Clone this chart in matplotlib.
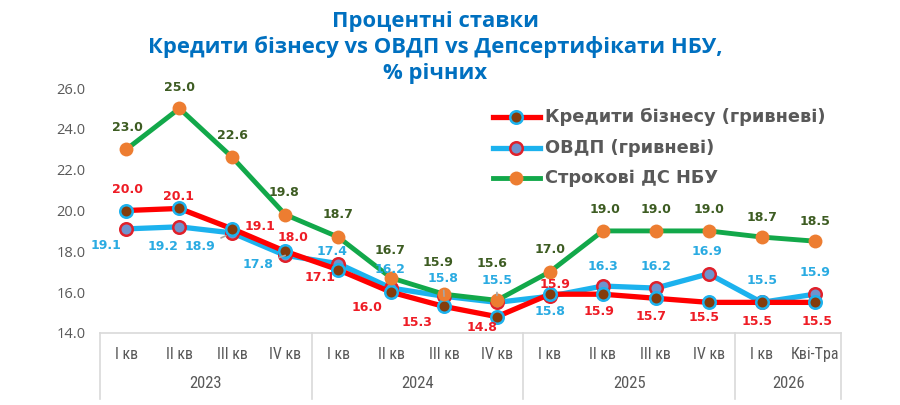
import matplotlib
matplotlib.use("Agg")
import matplotlib.pyplot as plt
from matplotlib import font_manager
from matplotlib.lines import Line2D
import matplotlib.transforms as mtransforms

# ---------------- data ----------------
quarters = ["I кв", "II кв", "III кв", "IV кв",
            "I кв", "II кв", "III кв", "IV кв",
            "I кв", "II кв", "III кв", "IV кв",
            "I кв", "Кві-Тра"]
years = ["2023", "2024", "2025", "2026"]
year_sizes = [4, 4, 4, 2]

loans = [20.0, 20.1, 19.1, 18.0, 17.1, 16.0, 15.3, 14.8, 15.9, 15.9, 15.7, 15.5, 15.5, 15.5]
ovdp = [19.1, 19.2, 18.9, 17.8, 17.4, 16.2, 15.8, 15.5, 15.8, 16.3, 16.2, 16.9, 15.5, 15.9]
nbu_cd = [23.0, 25.0, 22.6, 19.8, 18.7, 16.7, 15.9, 15.6, 17.0, 19.0, 19.0, 19.0, 18.7, 18.5]

series_names = ["Кредити бізнесу (гривневі)", "ОВДП (гривневі)", "Строкові ДС НБУ"]
title_lines = ["Процентні ставки",
               "Кредити бізнесу vs ОВДП vs Депсертифікати НБУ,",
               "% річних"]
yticks = [14, 16, 18, 20, 22, 24, 26]

# label offsets in pixels (dx, dy downward)
off_loans = [(1, -21), (-1, -12), (28, -2), (8, -14), (-18, 8), (-24, 15), (-27, 16),
             (-15, 11), (5, -10), (-4, 17), (-5, 18), (-5, 15), (-5, 19), (3, 19)]
off_ovdp = [(-20, 17), (-16, 20), (-32, 14), (-27, 9), (-6, -12), (-1, -19), (-1, -18),
            (0, -22), (0, 15), (0, -20), (0, -22), (-2, -22), (0, -22), (0, -22)]
off_nbu = [(1, -22), (0, -21), (0, -22), (-1, -22), (0, -23), (-1, -27), (-6, -32),
           (-5, -37), (0, -22), (2, -21), (0, -21), (0, -21), (0, -20), (0, -20)]
leader_ovdp = {2, 3, 6, 7}

# ---------------- fonts ----------------
avail = {f.name for f in font_manager.fontManager.ttflist}
def pick(*names):
    for n in names:
        if n in avail:
            return n
    return "DejaVu Sans"

f_title = pick("Open Sans", "Roboto", "Lato")
f_ytick = pick("Open Sans", "Roboto")
f_cat = pick("Liberation Sans Narrow", "Roboto Condensed", "Roboto")
f_lab = "DejaVu Sans"

# ---------------- colours ----------------
c_red = "#FF0000"
c_blue = "#1CB2EE"
c_green = "#12A84A"
c_red_lab = "#EE1C25"
c_blue_lab = "#2AABE2"
c_green_lab = "#3D5C22"
c_gray = "#595959"
c_axis = "#D9D9D9"

W, H = 900, 405
fig = plt.figure(figsize=(W / 100, H / 100), dpi=100)
ax = fig.add_axes([100 / W, 1 - 333 / H, 741 / W, 245 / H])

x = list(range(len(quarters)))

styles = [
    dict(color=c_red, lw=3.8, marker="o", ms=9, mfc="#843C0C", mec=c_blue, mew=1.8, zorder=4),
    dict(color=c_blue, lw=3.8, marker="o", ms=9, mfc="#6F93CD", mec="#E0202A", mew=1.8, zorder=3),
    dict(color=c_green, lw=3.5, marker="o", ms=10, mfc="#ED7D31", mec="#ED7D31", mew=0, zorder=5),
]
ax.plot(x, ovdp, **styles[1])
ax.plot(x, loans, **styles[0])
ax.plot(x, nbu_cd, **styles[2])

def labels(vals, offs, color, leaders=()):
    for i, (v, (dx, dy)) in enumerate(zip(vals, offs)):
        kw = {}
        if i in leaders:
            kw["arrowprops"] = dict(arrowstyle="-", color="#A6A6A6", lw=1.2,
                                    shrinkA=2, shrinkB=5)
        ax.annotate(f"{v:.1f}", (i, v), xytext=(dx * 0.72, -dy * 0.72),
                    textcoords="offset points", ha="center", va="center",
                    fontsize=9, fontweight="bold", color=color, family=f_lab,
                    zorder=6, annotation_clip=False, **kw)

labels(nbu_cd, off_nbu, c_green_lab)
labels(loans, off_loans, c_red_lab)
labels(ovdp, off_ovdp, c_blue_lab, leader_ovdp)

ax.set_xlim(-0.5, len(quarters) - 0.5)
ax.set_ylim(yticks[0], yticks[-1])
ax.set_yticks(yticks)
ax.set_yticklabels([f"{t:.1f}" for t in yticks], fontsize=10.5, color=c_gray, family=f_ytick)
ax.tick_params(axis="y", length=0, pad=10.5)
ax.set_xticks(x)
ax.set_xticklabels(quarters, fontsize=11.5, color=c_gray, family=f_cat)
ax.tick_params(axis="x", length=0, pad=10)

for s in ["top", "right", "left"]:
    ax.spines[s].set_visible(False)
ax.spines["bottom"].set_color(c_axis)
ax.spines["bottom"].set_linewidth(1.2)

trans = mtransforms.blended_transform_factory(ax.transData, ax.transAxes)
start = -0.5
bounds = [start]
for yname, n in zip(years, year_sizes):
    mid = start + n / 2
    ax.text(mid, -51 / 245, yname, transform=trans, ha="center", va="center",
            fontsize=12, color=c_gray, family=f_cat)
    start += n
    bounds.append(start)
for b in bounds:
    ax.plot([b, b], [0, -66 / 245], transform=trans, color=c_axis, lw=1.2, clip_on=False)

# title
for yy, t in zip([22, 47, 73], title_lines):
    fig.text(435 / W, 1 - yy / H, t, ha="center", va="center", fontsize=15.8,
             fontweight="bold", color="#0070C0", family=f_title)

# legend (manual)
for yy, name, st in zip([117, 148, 178], series_names, styles):
    yf = 1 - yy / H
    fig.add_artist(Line2D([493 / W, 540 / W], [yf, yf], color=st["color"], lw=st["lw"],
                          transform=fig.transFigure))
    fig.add_artist(Line2D([516 / W], [yf], marker="o", ms=st["ms"], mfc=st["mfc"],
                          mec=st["mec"], mew=st["mew"], lw=0, transform=fig.transFigure))
    fig.text(545 / W, yf, name, ha="left", va="center", fontsize=12.8, fontweight="bold",
             color=c_gray, family=f_lab)

fig.savefig("out.png", dpi=100)
